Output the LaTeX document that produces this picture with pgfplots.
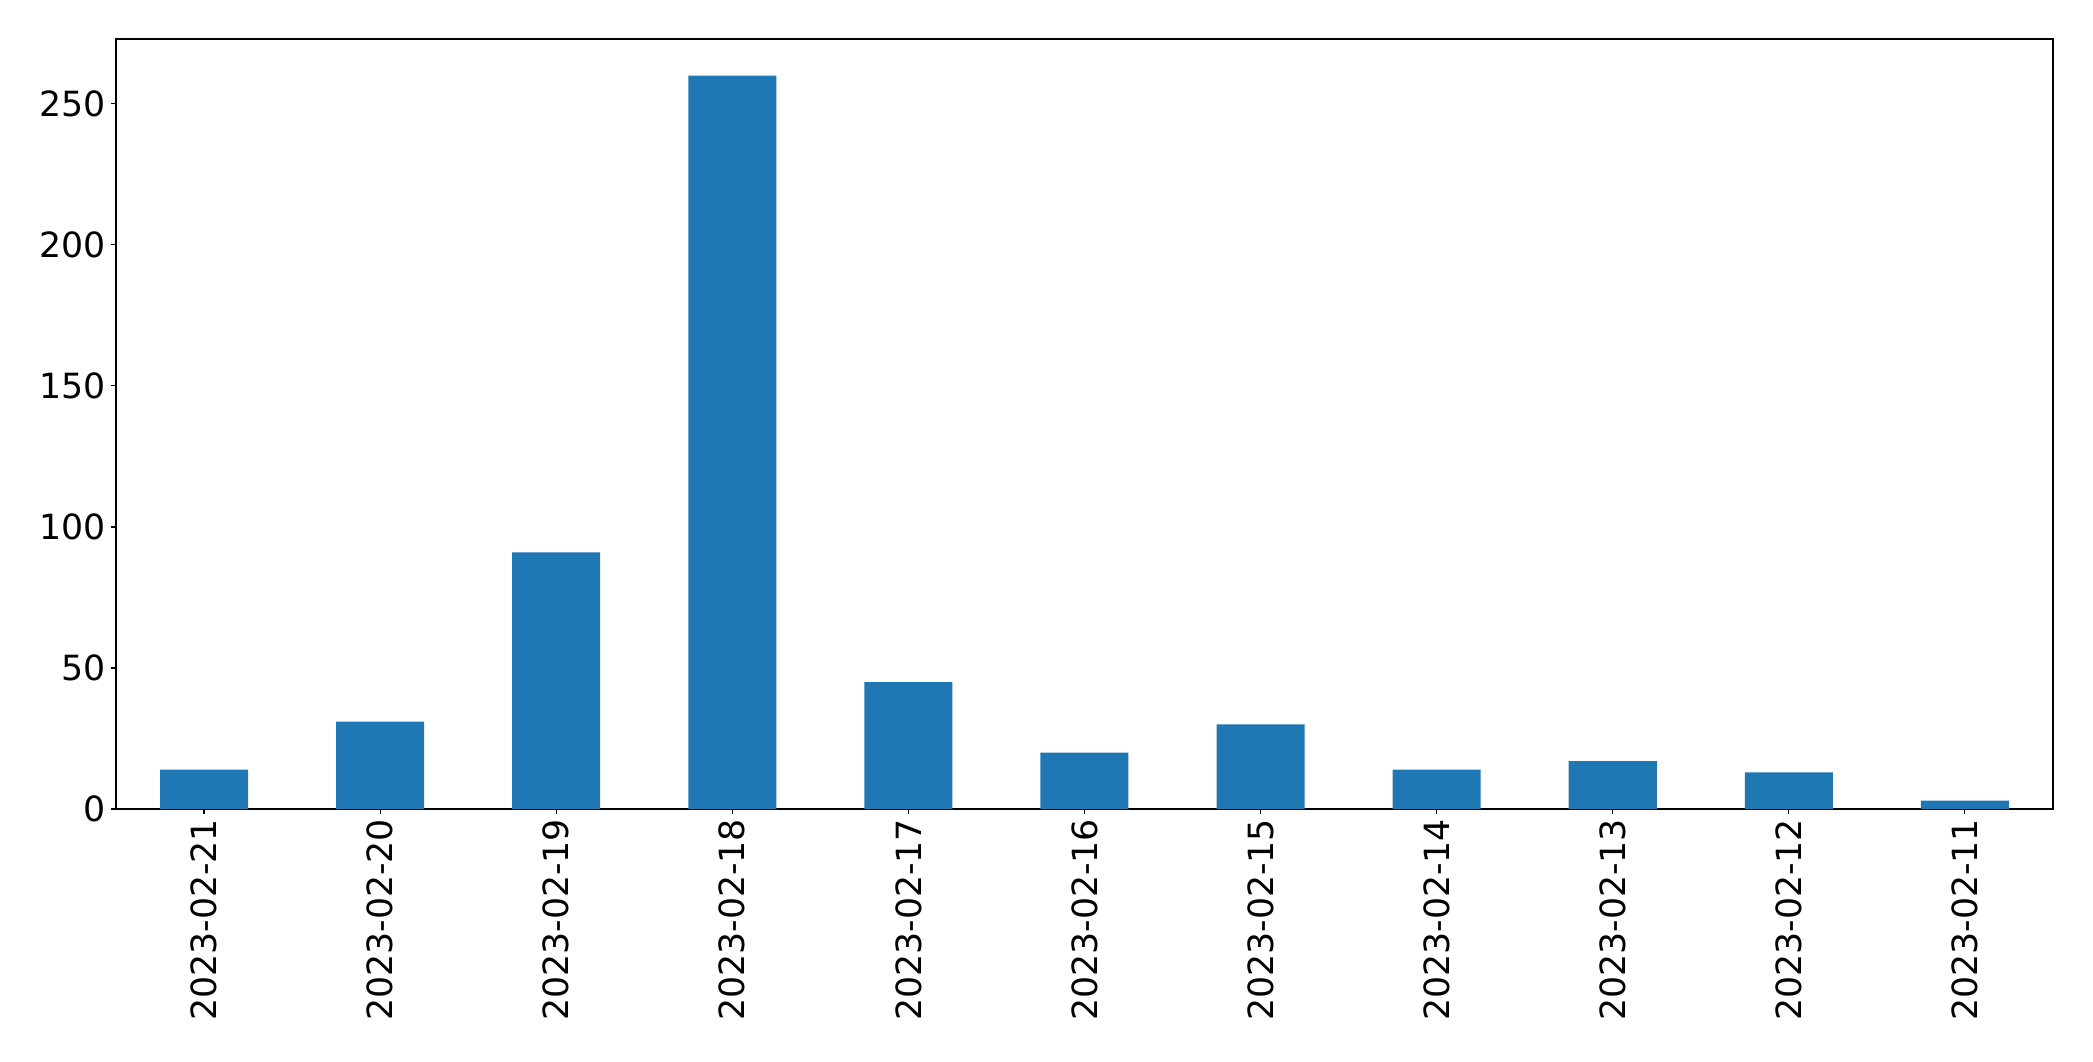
\documentclass[border=0pt]{standalone}
\usepackage{fontspec}
\setmainfont{DejaVu Sans}
\usepackage{pgfplots}
\pgfplotsset{compat=1.18}
\definecolor{mplblue}{HTML}{1F77B4}
\begin{document}
\begin{tikzpicture}
\useasboundingbox (-83.52pt,-181.44pt) rectangle (1423.44pt,582.48pt);
\begin{axis}[
  scale only axis,
  width=1394.6pt, height=554.4pt,
  xmin=-0.5, xmax=10.5, ymin=0, ymax=273,
  xtick={0,1,2,3,4,5,6,7,8,9,10},
  xticklabels={2023-02-21,2023-02-20,2023-02-19,2023-02-18,2023-02-17,2023-02-16,2023-02-15,2023-02-14,2023-02-13,2023-02-12,2023-02-11},
  ytick={0,50,100,150,200,250},
  tick align=outside,
  tick pos=left,
  major tick length=3.5pt,
  every tick/.style={black, line width=0.8pt},
  axis line style={line width=0.8pt},
  /pgf/number format/assume math mode=true,
  tick label style={font=\fontsize{25}{30}\selectfont},
  xticklabel style={rotate=90, anchor=east, inner sep=3.5pt},
  yticklabel style={inner sep=3.5pt},
  ybar, bar width=0.5,
]
\addplot[fill=mplblue, draw=none] coordinates {
(0,14) (1,31) (2,91) (3,260) (4,45) (5,20) (6,30) (7,14) (8,17) (9,13) (10,3)
};
\end{axis}
\end{tikzpicture}
\end{document}
